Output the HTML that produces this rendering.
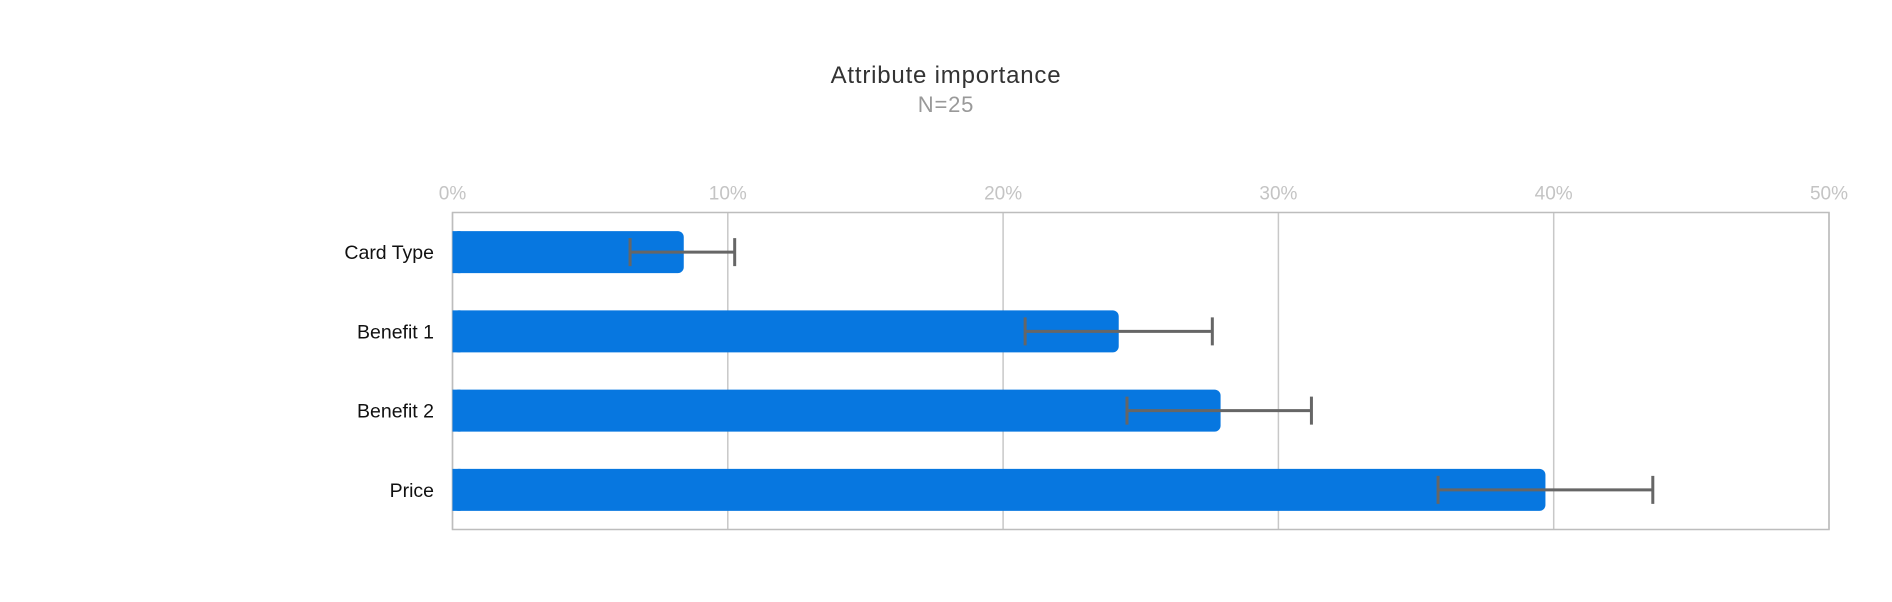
<!DOCTYPE html>
<html><head><meta charset="utf-8"><style>
body{margin:0;background:#fff;font-family:"Liberation Sans",sans-serif}
svg{display:block}
</style></head><body>
<svg id="c" width="1892" height="602">
<text x="946" y="83" text-anchor="middle" font-size="24" letter-spacing="0.8" fill="#333">Attribute importance</text>
<text x="946" y="112" text-anchor="middle" font-size="22" letter-spacing="0.8" fill="#999">N=25</text>
</svg>
<script>
const categories=["Card Type","Benefit 1","Benefit 2","Price"];
const values=[8.4,24.2,27.9,39.7];
const errLow=[6.45,20.8,24.5,35.8];
const errHigh=[10.25,27.6,31.2,43.6];
const ticks=[0,10,20,30,40,50];
const tickLabels=["0%","10%","20%","30%","40%","50%"];
const svg=document.getElementById('c');const NS="http://www.w3.org/2000/svg";
const L=452.5,R=1829,T=212.5,B=529.5;
const x=v=>L+(R-L)*v/50;
const band=(B-T)/categories.length;
const yc=i=>T+band*(i+0.5);
function mk(t,a){const e=document.createElementNS(NS,t);for(const k in a)e.setAttribute(k,a[k]);svg.appendChild(e);return e;}
ticks.forEach((t,i)=>{
 const g=mk('line',{x1:x(t),x2:x(t),y1:T,y2:B,stroke:'#c8c8c8','stroke-width':1.5});
 
 
 const tx=mk('text',{x:x(t),y:T-13,'text-anchor':'middle','font-size':19,fill:'#c4c4c4'});
 tx.textContent=tickLabels[i];
 
 
});
const ax=mk('rect',{x:L,y:T,width:R-L,height:B-T,fill:'none',stroke:'#bdbdbd','stroke-width':1.5});


const bh=band*0.53;
categories.forEach((c,i)=>{
 const y=yc(i);
 const b=mk('rect',{x:L,y:y-bh/2,width:x(values[i])-L,height:bh,rx:6,fill:'#0777e0'});
 
 
 mk('rect',{x:L,y:y-bh/2,width:8,height:bh,fill:'#0777e0'});
 const lb=mk('text',{x:434,y:y+7,'text-anchor':'end','font-size':19.5,fill:'#111'});
 lb.textContent=c;
 
 
 const e=mk('path',{d:`M${x(errLow[i])},${y}H${x(errHigh[i])}M${x(errLow[i])},${y-14}V${y+14}M${x(errHigh[i])},${y-14}V${y+14}`,stroke:'#666','stroke-width':3,fill:'none'});
 
 
});
</script>
</body></html>
